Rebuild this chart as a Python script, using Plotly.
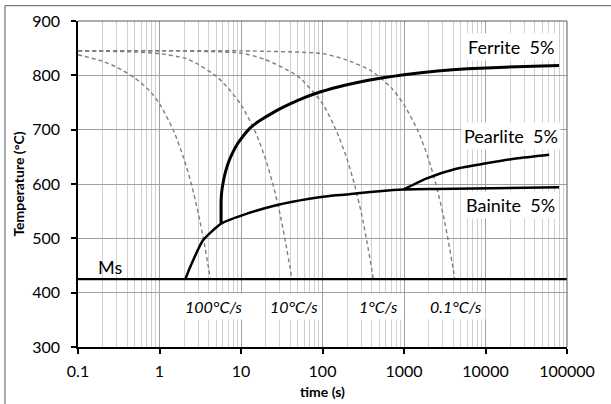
import plotly.graph_objects as go
import math

# ---------------- data ----------------
# cooling curves (dashed)
rate_labels = ["100°C/s", "10°C/s", "1°C/s", "0.1°C/s"]

cool_100_t = [0.1, 0.2, 0.3, 0.5, 0.75, 1.0, 1.5, 2.0, 2.5, 3.0, 3.5, 4.0, 4.2]
cool_100_T = [838, 826, 815, 795, 772, 748, 697, 646, 596, 545, 495, 445, 425]

cool_10_t = [0.1, 0.5, 1, 2, 3, 5, 7, 10, 15, 20, 25, 30, 35, 40, 42]
cool_10_T = [845, 843, 840, 832, 820, 798, 776, 746, 696, 646, 596, 546, 495, 445, 425]

cool_1_t = [0.1, 1, 10, 20, 50, 100, 150, 200, 250, 300, 350, 400, 420]
cool_1_T = [845, 845, 841, 829, 798, 748, 696, 646, 596, 546, 495, 445, 425]

cool_01_t = [0.1, 10, 100, 200, 400, 700, 1000, 1500, 2000, 2500, 3000, 3500, 4000, 4200]
cool_01_T = [845, 845, 840, 828, 808, 777, 746, 696, 646, 596, 546, 495, 445, 425]

# transformation start curves (solid)
ferrite_t = [5.7, 5.7, 5.85, 6.1, 6.5, 7.1, 7.8, 8.8, 10, 12.7, 16, 20.4, 28, 39.4, 60, 84,
             150, 250, 576, 1000, 2577, 6000, 17100, 80000]
ferrite_T = [527, 570, 590, 606, 624, 642, 656, 671, 683, 702, 714, 724, 736, 747, 759, 767,
             778, 786, 796, 801, 808, 812, 815, 818]

bainite_t = [2.08, 2.33, 3.4, 5.7, 11.6, 27, 69, 122, 214, 270, 990, 2490, 80000]
bainite_T = [425, 444, 496, 527, 545, 561, 573, 578, 581, 583, 590, 591, 594]

pearlite_t = [990, 1870, 4380, 10240, 23600, 60400]
pearlite_T = [590, 610, 628, 638, 647, 654]

ms_t = [0.1, 100000]
ms_T = [425, 425]

x_tick_vals = [0.1, 1, 10, 100, 1000, 10000, 100000]
x_tick_text = ["0.1", "1", "10", "100", "1000", "10000", "100000"]
y_tick_vals = [300, 400, 500, 600, 700, 800, 900]

curve_labels = ["Ferrite  5%", "Pearlite  5%", "Bainite  5%", "Ms"]

# ---------------- figure ----------------
FONT = "Lato, 'Open Sans', sans-serif"
fig = go.Figure()

dash_style = dict(color="#7f7f7f", width=1.4, dash="4px,3px")
for t, T, name in [(cool_100_t, cool_100_T, rate_labels[0]),
                   (cool_10_t, cool_10_T, rate_labels[1]),
                   (cool_1_t, cool_1_T, rate_labels[2]),
                   (cool_01_t, cool_01_T, rate_labels[3])]:
    fig.add_trace(go.Scatter(x=t, y=T, mode="lines", name=name,
                             line=dict(shape="spline", smoothing=0.6, **dash_style),
                             showlegend=False, hoverinfo="skip"))

fig.add_trace(go.Scatter(x=ferrite_t, y=ferrite_T, mode="lines", name="Ferrite 5%",
                         line=dict(color="black", width=3, shape="spline", smoothing=0.4),
                         showlegend=False))
fig.add_trace(go.Scatter(x=bainite_t, y=bainite_T, mode="lines", name="Bainite 5%",
                         line=dict(color="black", width=2.5, shape="spline", smoothing=0.5),
                         showlegend=False))
fig.add_trace(go.Scatter(x=pearlite_t, y=pearlite_T, mode="lines", name="Pearlite 5%",
                         line=dict(color="black", width=2.5, shape="spline", smoothing=0.6),
                         showlegend=False))
fig.add_trace(go.Scatter(x=ms_t, y=ms_T, mode="lines", name="Ms",
                         line=dict(color="black", width=2.2),
                         showlegend=False))

annotations = []
# curve labels
for text, xt, yT in [(curve_labels[0], 20300, 853),
                     (curve_labels[1], 20300, 689),
                     (curve_labels[2], 20300, 561)]:
    annotations.append(dict(x=math.log10(xt), y=yT, xref="x", yref="y", text=text,
                            showarrow=False, bgcolor="white", borderpad=2,
                            font=dict(family=FONT, size=18, color="black")))
annotations.append(dict(x=math.log10(0.245), y=447, xref="x", yref="y", text=curve_labels[3],
                        showarrow=False, font=dict(family=FONT, size=18, color="black")))
# cooling-rate labels
for text, xt in zip(rate_labels, [4.6, 45.3, 486, 4400]):
    annotations.append(dict(x=math.log10(xt), y=374.5, xref="x", yref="y",
                            text="<i>" + text + "</i>", showarrow=False,
                            bgcolor="white", borderpad=3,
                            font=dict(family=FONT, size=16, color="black")))

# outer chart border (left & top) and plot-area frame (top & right)
shapes = [
    # white background behind the "Ms" label (under the traces)
    dict(type="rect", xref="x", yref="y", x0=-1, x1=math.log10(0.49), y0=428, y1=468,
         fillcolor="white", line=dict(width=0), layer="between"),
    dict(type="line", xref="paper", yref="paper", x0=-0.1493, x1=-0.1493, y0=-0.3, y1=1.047,
         line=dict(color="#595959", width=1)),
    dict(type="line", xref="paper", yref="paper", x0=-0.1493, x1=1.2, y0=1.047, y1=1.047,
         line=dict(color="#595959", width=1)),
    dict(type="line", xref="paper", yref="paper", x0=0, x1=1, y0=1, y1=1,
         line=dict(color="#595959", width=1), layer="above"),
    dict(type="line", xref="paper", yref="paper", x0=1, x1=1, y0=0, y1=1,
         line=dict(color="#595959", width=1), layer="above"),
]

fig.update_layout(
    width=611, height=404,
    margin=dict(l=78, r=44, t=21, b=57, autoexpand=False),
    paper_bgcolor="white", plot_bgcolor="white",
    font=dict(family=FONT, size=15, color="black"),
    annotations=annotations,
    shapes=shapes,
    showlegend=False,
)

fig.update_xaxes(
    type="log", range=[-1, 5],
    tickmode="array", tickvals=x_tick_vals, ticktext=x_tick_text,
    showgrid=True, gridcolor="#a0a0a0", gridwidth=1,
    minor=dict(dtick="D1", showgrid=True, gridcolor="#d0d0d0", gridwidth=1, ticks=""),
    showline=True, linecolor="black", linewidth=1.5,
    ticks="outside", ticklen=5, tickcolor="black", tickwidth=1.5,
    ticklabelstandoff=4,
    tickfont=dict(family=FONT, size=16, color="black"),
    title=dict(text="<b>time (s)</b>", font=dict(family=FONT, size=14, color="black"),
               standoff=8),
    zeroline=False,
)
fig.update_yaxes(
    range=[300, 900], tickmode="array", tickvals=y_tick_vals,
    showgrid=True, gridcolor="#a0a0a0", gridwidth=1,
    showline=True, linecolor="black", linewidth=1.5,
    ticks="outside", ticklen=5, tickcolor="black", tickwidth=1.5,
    ticklabelstandoff=8,
    tickfont=dict(family=FONT, size=16, color="black"),
    title=dict(text="<b>Temperature (°C)</b>", font=dict(family=FONT, size=14, color="black"),
               standoff=4),
    zeroline=False,
)

fig.write_html("out.html")
